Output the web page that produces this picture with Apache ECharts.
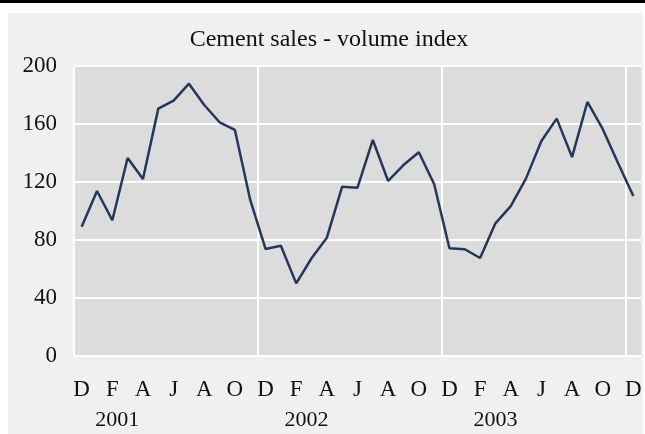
<!DOCTYPE html>
<html>
<head>
<meta charset="utf-8">
<script src="https://cdn.jsdelivr.net/npm/echarts@6/dist/echarts.min.js"></script>
<style>
  html, body { margin: 0; padding: 0; background: #fff; }
  #topbar { position: absolute; left: 0; top: 0; width: 645px; height: 3px; background: #000; }
  #panel { position: absolute; left: 8px; top: 13px; width: 635px; height: 421px; background: #f0f0f0; }
  #chart { position: absolute; left: 0; top: 0; width: 645px; height: 434px; }
</style>
</head>
<body>
<div id="topbar"></div>
<div id="panel"></div>
<div id="chart"></div>
<script>
// monthly index, Dec 2000 .. Dec 2003
var months = ['D','J','F','M','A','M','J','J','A','S','O','N',
              'D','J','F','M','A','M','J','J','A','S','O','N',
              'D','J','F','M','A','M','J','J','A','S','O','N',
              'D'];
var volume = [89.2, 113.8, 93.6, 136.6, 122.1, 170.6, 176.1, 187.8, 173.1, 161.2, 155.9, 107.6,
              73.8, 76.1, 50.1, 67.4, 81.6, 116.8, 116.1, 149.0, 120.7, 131.7, 140.5, 118.6,
              74.3, 73.6, 67.6, 91.5, 103.4, 122.5, 148.3, 163.7, 137.2, 175.2, 156.6, 133.1,
              110.3];
var yearLabels = ['2001', '2002', '2003'];
var yearIndex = [2, 15, 27];
var yTicks = [0, 40, 80, 120, 160, 200];

var serif = 'Liberation Serif, Times New Roman, serif';
var myChart = echarts.init(document.getElementById('chart'));
var option = {
    backgroundColor: 'transparent',
    animation: false,
    title: {
        text: 'Cement sales - volume index',
        left: 324,
        top: 23,
        textAlign: 'center',
        textStyle: { fontFamily: serif, fontSize: 24, fontWeight: 'normal', color: '#111' }
    },
    grid: {
        left: 74, right: 4, top: 66, bottom: 78,
        show: true,
        backgroundColor: '#dcdcdc',
        borderWidth: 0
    },
    xAxis: [
        {
            type: 'category',
            data: months,
            boundaryGap: true,
            axisLine: { show: false },
            axisTick: { show: false },
            axisLabel: {
                interval: 1,
                margin: 22,
                fontFamily: serif, fontSize: 23, color: '#111'
            },
            splitLine: {
                show: true,
                showMaxLine: false,
                interval: function (i) { return i % 12 === 0; },
                lineStyle: { color: '#ffffff', width: 2 }
            }
        },
        {
            type: 'category',
            data: months,
            position: 'bottom',
            boundaryGap: true,
            axisLine: { show: false },
            axisTick: { show: false },
            splitLine: { show: false },
            axisLabel: {
                interval: 0,
                margin: 53,
                fontFamily: serif, fontSize: 22, color: '#111',
                formatter: function (v, i) {
                    var k = yearIndex.indexOf(i);
                    if (k < 0) return '';
                    return k === 0 ? '{r|' + yearLabels[k] + '}' : (k === 1 ? '{l|' + yearLabels[k] + '}' : yearLabels[k]);
                },
                rich: {
                    r: { fontFamily: serif, fontSize: 22, color: '#111', padding: [0, 0, 0, 10] },
                    l: { fontFamily: serif, fontSize: 22, color: '#111', padding: [0, 10, 0, 0] }
                }
            }
        }
    ],
    yAxis: {
        type: 'value',
        min: yTicks[0],
        max: yTicks[yTicks.length - 1],
        interval: 40,
        axisLine: { show: false },
        axisTick: { show: false },
        axisLabel: { margin: 17, fontFamily: serif, fontSize: 23, color: '#111' },
        splitLine: { show: true, lineStyle: { color: '#ffffff', width: 2 } }
    },
    series: [
        {
            name: 'volume',
            type: 'line',
            xAxisIndex: 0,
            data: volume,
            symbol: 'none',
            lineStyle: { color: '#24375a', width: 2.5 }
        }
    ]
};
myChart.setOption(option);
</script>
</body>
</html>
